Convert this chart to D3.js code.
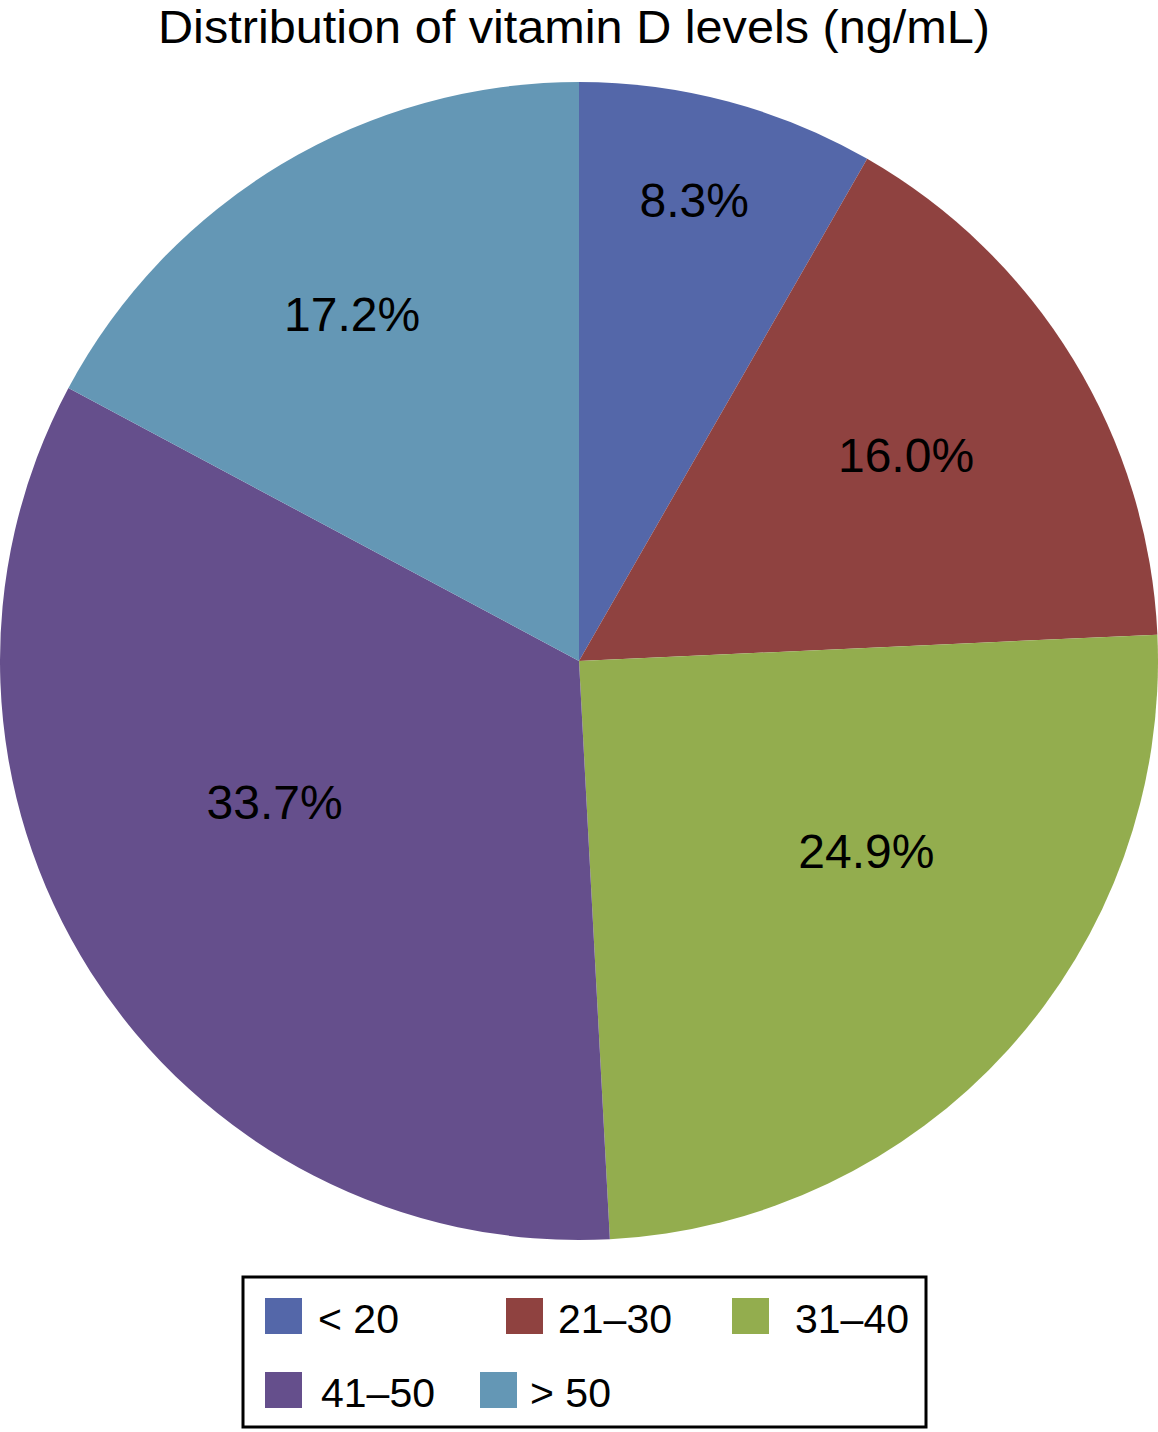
<!DOCTYPE html>
<html>
<head>
<meta charset="utf-8">
<script src="https://cdn.jsdelivr.net/npm/d3@7"></script>
<style>
  html, body { margin: 0; padding: 0; background: #fff; }
  svg { display: block; }
  text { font-family: "Liberation Sans", Arial, Helvetica, sans-serif; fill: #000; }
</style>
</head>
<body>
<svg id="chart" width="1158" height="1432"></svg>
<script>
// ---- data ----
const categories = ["< 20", "21\u201330", "31\u201340", "41\u201350", "> 50"];
const percentages = [8.3, 16.0, 24.9, 33.7, 17.2];
const percentLabels = ["8.3%", "16.0%", "24.9%", "33.7%", "17.2%"];
const titleText = "Distribution of vitamin D levels (ng/mL)";

// ---- styles / layout ----
const colors = ["#5467a9", "#8f4240", "#93ad4e", "#654f8c", "#6497b5"];
const W = 1158, H = 1432;
const cx = 579, cy = 661, R = 579;
// label placement: radius fraction and angular shift (degrees) from slice mid-angle
const labelRadiusFrac = [0.821, 0.668, 0.595, 0.579, 0.717];
const labelAngleShift = [-0.9, -0.9, -8.7, 7.7, -2.2];
const labelFont = 48;
// legend layout
const legendBox = { x: 243, y: 1277, w: 683, h: 150 };
const legendSwatchX = [265, 506, 732, 265, 480];
const legendTextX = [318, 558, 795, 321, 530];
const legendRowY = [1298, 1298, 1298, 1372, 1372];
const swatchW = 37, swatchH = 36;

const svg = d3.select("#chart");

// title
svg.append("text")
  .attr("x", 574)
  .attr("y", 43)
  .attr("text-anchor", "middle")
  .attr("font-size", 47)
  .attr("textLength", 832)
  .attr("lengthAdjust", "spacingAndGlyphs")
  .text(titleText);

// pie
const pie = d3.pie().sort(null).value(d => d)(percentages);
const arc = d3.arc().innerRadius(0).outerRadius(R);
const color = d3.scaleOrdinal().domain(categories).range(colors);

const g = svg.append("g").attr("transform", `translate(${cx},${cy})`);
g.selectAll("path.slice")
  .data(pie)
  .join("path")
  .attr("class", "slice")
  .attr("d", arc)
  .attr("fill", (d, i) => color(categories[i]));

g.selectAll("text.pct")
  .data(pie)
  .join("text")
  .attr("class", "pct")
  .attr("text-anchor", "middle")
  .attr("font-size", labelFont)
  .attr("transform", (d, i) => {
    const a = (d.startAngle + d.endAngle) / 2 + labelAngleShift[i] * Math.PI / 180;
    const r = R * labelRadiusFrac[i];
    return `translate(${r * Math.sin(a)},${-r * Math.cos(a) + labelFont * 0.36})`;
  })
  .text((d, i) => percentLabels[i]);

// legend
svg.append("rect")
  .attr("x", legendBox.x)
  .attr("y", legendBox.y)
  .attr("width", legendBox.w)
  .attr("height", legendBox.h)
  .attr("fill", "#fff")
  .attr("stroke", "#000")
  .attr("stroke-width", 3);

const items = svg.selectAll("g.leg")
  .data(categories)
  .join("g")
  .attr("class", "leg");
items.append("rect")
  .attr("x", (d, i) => legendSwatchX[i])
  .attr("y", (d, i) => legendRowY[i])
  .attr("width", swatchW)
  .attr("height", swatchH)
  .attr("fill", d => color(d));
items.append("text")
  .attr("x", (d, i) => legendTextX[i])
  .attr("y", (d, i) => legendRowY[i] + 35)
  .attr("font-size", 41)
  .text(d => d);
</script>
</body>
</html>
